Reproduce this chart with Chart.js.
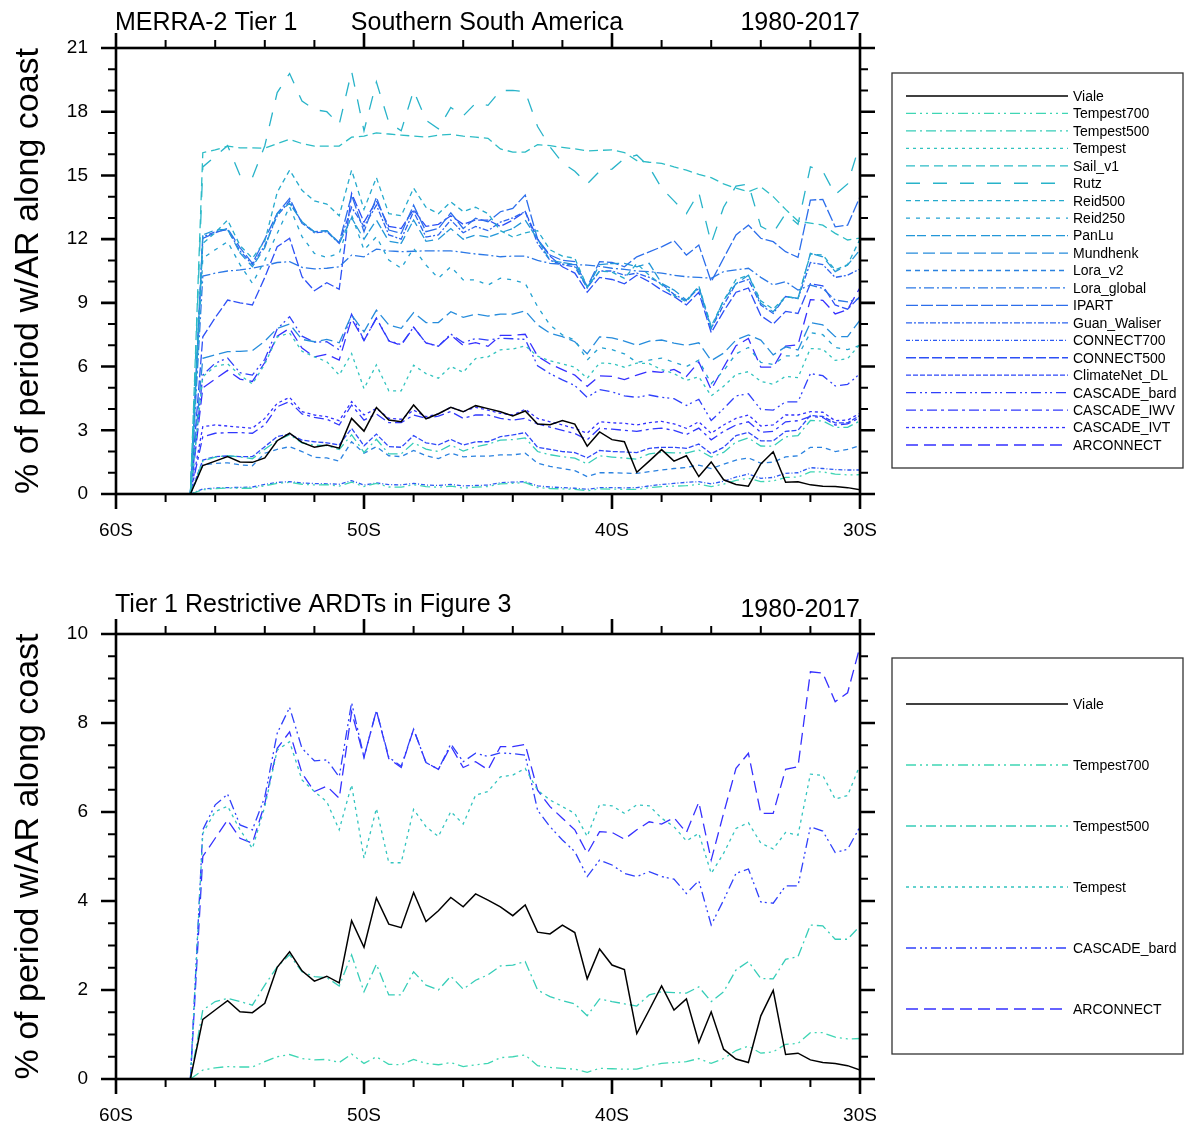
<!DOCTYPE html>
<html><head><meta charset="utf-8">
<script src="https://cdn.jsdelivr.net/npm/chart.js@4.4.1/dist/chart.umd.min.js"></script>
<style>
html,body{margin:0;padding:0;background:#fff;}
canvas{position:absolute;left:0;}
#c1{top:0;} #c2{top:566px;}
</style></head>
<body>
<canvas id="c1" width="1185" height="566"></canvas>
<canvas id="c2" width="1185" height="566"></canvas>
<script>
// ---- data ----
const lats = [-57,-56.5,-56,-55.5,-55,-54.5,-54,-53.5,-53,-52.5,-52,-51.5,-51,-50.5,-50,-49.5,-49,-48.5,-48,-47.5,-47,-46.5,-46,-45.5,-45,-44.5,-44,-43.5,-43,-42.5,-42,-41.5,-41,-40.5,-40,-39.5,-39,-38.5,-38,-37.5,-37,-36.5,-36,-35.5,-35,-34.5,-34,-33.5,-33,-32.5,-32,-31.5,-31,-30.5,-30];
const xTickLabels = ['60S','50S','40S','30S'];
const viale = [0,1.34,1.55,1.76,1.51,1.49,1.70,2.51,2.86,2.43,2.20,2.31,2.16,3.56,2.96,4.07,3.48,3.40,4.19,3.54,3.78,4.08,3.87,4.16,4.02,3.87,3.67,3.91,3.30,3.26,3.46,3.29,2.25,2.92,2.56,2.46,1.02,1.55,2.09,1.55,1.80,0.82,1.51,0.67,0.45,0.37,1.42,1.99,0.55,0.58,0.43,0.37,0.35,0.30,0.20];
const tempest700 = [0,0.20,0.25,0.28,0.27,0.27,0.39,0.50,0.55,0.46,0.43,0.44,0.37,0.56,0.35,0.50,0.33,0.32,0.44,0.35,0.32,0.37,0.28,0.32,0.35,0.48,0.50,0.54,0.30,0.26,0.24,0.22,0.15,0.24,0.23,0.22,0.22,0.30,0.35,0.37,0.39,0.46,0.35,0.46,0.64,0.74,0.58,0.61,0.78,0.80,1.04,1.04,0.94,0.90,0.91];
const tempest500 = [0,1.55,1.74,1.81,1.74,1.66,2.11,2.52,2.79,2.41,2.30,2.28,2.09,2.79,1.96,2.58,1.89,1.89,2.41,2.11,2.00,2.31,2.02,2.22,2.34,2.54,2.56,2.64,2.00,1.85,1.76,1.69,1.42,1.80,1.74,1.69,1.64,1.89,1.96,1.94,1.93,2.07,1.74,1.96,2.45,2.64,2.26,2.25,2.69,2.75,3.46,3.44,3.14,3.14,3.44];
const tempest = [0,5.52,6.01,6.13,5.60,5.18,6.12,7.39,7.58,6.72,6.46,6.23,5.60,6.61,4.96,6.08,4.86,4.86,6.06,5.67,5.45,6.01,5.73,6.38,6.46,6.79,6.83,6.98,6.49,6.27,6.12,5.97,5.45,6.17,6.14,5.97,6.16,6.14,5.86,5.67,5.35,5.52,4.62,5.07,5.63,5.76,5.30,5.17,5.54,5.48,6.85,6.82,6.29,6.37,7.06];
const sailV1 = [0,16.07,16.2,16.38,16.3,16.3,16.28,16.5,16.7,16.5,16.38,16.38,16.38,16.8,16.85,17.0,16.95,16.9,16.85,16.8,16.9,16.93,16.85,16.8,16.75,16.25,16.1,16.1,16.45,16.4,16.32,16.25,16.15,16.18,16.2,16.08,15.7,15.62,15.57,15.4,15.25,15.05,14.9,14.6,14.4,14.23,14.47,14.0,13.4,12.85,12.75,12.66,12.27,11.96,12.05];
const rutz = [0,15.4,15.9,16.4,15.0,14.9,16.4,18.9,19.8,18.5,18.1,18.0,17.4,19.9,17.1,19.4,17.5,17.1,19.0,17.6,17.2,18.2,17.8,18.4,18.3,19.0,19.0,18.95,17.3,16.35,15.6,15.2,14.6,15.2,15.3,15.8,15.96,15.4,14.4,13.8,13.2,14.2,11.8,13.5,14.5,14.6,12.6,12.3,13.2,12.7,15.4,15.2,14.1,14.6,16.5];
const reid500 = [0,11.8,12.3,12.9,11.7,11.1,11.9,14.2,15.25,14.3,13.8,13.65,13.1,15.25,13.4,14.9,13.2,13.1,14.4,13.5,13.2,13.75,13.3,13.5,13.2,12.4,12.1,12.3,12.4,11.5,11.2,11.1,9.75,10.5,10.45,10.15,10.85,10.3,9.85,9.35,9.05,9.8,7.9,9.1,10.1,10.3,9.1,8.7,9.3,9.2,11.3,11.25,10.55,10.8,12.0];
const reid250 = [0,11.1,11.5,11.88,10.8,9.92,11.0,12.27,13.53,12.12,11.33,11.14,11.33,13.14,11.49,12.11,11.02,10.63,11.57,10.78,10.16,10.7,10.08,10.08,9.84,10.16,10.08,9.92,8.82,7.96,7.49,7.25,6.31,6.9,6.8,6.6,6.2,6.3,6.4,6.2,6.0,6.3,5.2,5.8,6.6,6.9,6.2,6.1,6.5,6.5,7.6,7.5,6.9,6.8,7.0];
const panLu = [0,12.2,12.43,12.46,11.35,10.7,11.6,13.2,13.69,12.82,12.35,12.4,11.8,13.0,12.0,12.9,11.9,11.8,12.9,11.9,12.0,12.5,12.0,12.2,12.1,12.3,12.5,12.9,12.0,11.0,10.9,10.8,9.7,10.8,10.85,10.86,10.7,10.86,9.92,9.6,9.13,9.76,7.8,9.13,9.9,10.3,8.98,8.58,9.29,9.21,11.33,11.17,10.47,10.78,11.5];
const mundhenk = [0,6.39,6.55,6.70,6.72,6.75,7.2,7.8,8.0,7.28,7.17,7.28,7.12,8.43,7.64,8.66,7.96,7.8,8.54,8.07,8.07,8.58,8.32,8.47,8.38,8.47,8.47,8.62,7.96,7.57,7.41,7.17,6.6,7.4,7.35,7.2,7.0,7.2,7.25,7.1,7.0,7.12,6.28,6.63,7.25,7.49,7.25,6.55,6.93,6.78,8.07,7.96,7.41,7.41,8.19];
const loraV2 = [0,1.37,1.44,1.47,1.37,1.33,1.92,2.1,2.23,2.0,1.73,1.7,1.55,2.46,1.92,2.23,1.8,1.76,2.05,1.8,1.67,1.92,1.75,1.78,1.78,1.84,1.84,1.92,1.45,1.3,1.2,1.1,0.82,1.0,1.0,0.98,0.97,1.05,1.13,1.2,1.25,1.36,1.2,1.4,1.6,1.7,1.45,1.5,1.75,1.8,2.2,2.2,2.0,2.1,2.28];
const loraGlobal = [0,10.26,10.4,10.5,10.55,10.63,10.75,10.9,10.94,10.67,10.6,10.63,10.7,11.25,11.17,11.53,11.45,11.41,11.43,11.45,11.45,11.45,11.38,11.3,11.25,11.17,11.2,11.2,11.0,10.86,10.82,10.8,10.78,10.72,10.63,10.58,10.5,10.47,10.4,10.3,10.23,10.2,10.16,10.47,10.55,10.63,10.2,9.84,10.0,9.6,9.84,9.68,9.13,9.05,9.21];
const ipart = [0,12.03,12.3,12.5,11.6,10.86,12.0,13.21,13.92,12.74,12.35,12.4,11.83,14.08,12.35,13.97,12.43,12.27,13.6,12.35,12.5,13.24,12.5,12.98,12.82,13.29,13.45,14.08,12.0,11.25,11.0,10.94,9.76,10.94,10.9,10.7,11.17,11.4,11.64,11.93,11.25,11.72,10.0,11.1,12.2,12.66,12.04,11.88,11.41,11.14,13.84,13.87,12.58,12.66,14.0];
const guanWaliser = [0,12.1,12.35,12.45,11.45,10.8,11.7,13.1,13.8,12.78,12.3,12.35,11.8,13.5,12.6,13.6,12.2,12.0,13.3,12.1,12.2,12.9,12.3,12.6,12.4,12.8,13.0,13.3,11.8,11.0,10.8,10.7,9.7,10.5,10.5,10.3,10.4,10.2,9.9,9.4,9.1,9.7,7.8,8.9,9.9,10.1,8.9,8.5,9.3,9.2,10.9,10.8,10.2,10.3,10.6];
const connect700 = [0,0.24,0.28,0.3,0.31,0.33,0.45,0.55,0.58,0.52,0.49,0.48,0.46,0.63,0.42,0.52,0.44,0.43,0.5,0.42,0.4,0.45,0.38,0.4,0.42,0.53,0.56,0.58,0.38,0.33,0.3,0.27,0.22,0.3,0.3,0.29,0.3,0.38,0.45,0.5,0.55,0.58,0.48,0.6,0.8,0.94,0.74,0.78,0.97,1.0,1.24,1.2,1.15,1.13,1.13];
const connect500 = [0,7.4,8.3,9.13,9.0,8.9,10.2,11.64,12.04,10.23,9.57,9.95,9.64,14.15,12.8,13.8,12.6,12.5,13.4,12.6,12.7,13.1,12.7,12.9,12.9,12.6,12.9,13.3,12.0,11.2,10.7,10.4,9.5,10.2,10.1,9.9,10.3,10.0,9.6,9.3,8.9,9.5,7.6,8.6,9.5,9.7,8.4,8.0,8.6,8.5,9.9,9.8,8.9,8.7,9.3];
const climateNetDL = [0,1.6,1.76,1.79,1.76,1.76,2.23,2.7,2.82,2.54,2.46,2.41,2.31,3.09,2.27,2.82,2.23,2.2,2.75,2.41,2.31,2.57,2.31,2.46,2.46,2.7,2.78,2.89,2.2,2.1,2.0,1.95,1.7,2.05,2.0,1.98,1.95,2.15,2.2,2.2,2.15,2.35,1.9,2.2,2.75,2.9,2.5,2.5,2.95,3.0,3.7,3.65,3.35,3.35,3.7];
const cascadeBard = [0,5.60,6.16,6.40,5.71,5.60,6.34,7.77,8.35,7.43,7.15,7.17,6.79,8.46,7.23,8.28,7.23,7.03,7.86,7.11,6.96,7.53,7.13,7.32,7.25,7.33,7.31,7.28,6.04,5.67,5.37,5.11,4.55,4.92,4.81,4.62,4.55,4.66,4.55,4.49,4.17,4.46,3.46,4.02,4.62,4.72,3.98,3.95,4.34,4.34,5.67,5.57,5.09,5.16,5.67];
const cascadeIWV = [0,2.7,2.86,2.89,2.89,2.86,3.25,4.11,4.35,3.77,3.61,3.52,3.25,4.19,3.48,3.77,3.36,3.36,3.72,3.56,3.67,3.88,3.56,3.72,3.72,3.56,3.48,3.56,3.3,3.15,3.0,2.85,2.55,3.1,3.05,3.0,2.95,3.05,3.1,3.0,2.8,3.1,2.55,2.95,3.25,3.4,2.9,2.95,3.4,3.45,3.65,3.6,3.25,3.3,3.6];
const cascadeIVT = [0,3.17,3.25,3.2,3.14,3.1,3.56,4.27,4.55,3.88,3.72,3.64,3.45,4.35,3.72,4.03,3.56,3.52,3.95,3.64,3.77,4.08,3.88,4.08,3.95,3.8,3.72,3.99,3.56,3.40,3.25,3.09,2.86,3.40,3.35,3.33,3.25,3.36,3.42,3.30,3.09,3.40,2.86,3.25,3.56,3.72,3.2,3.25,3.72,3.72,3.88,3.85,3.45,3.48,3.8];
const arconnect = [0,5.00,5.41,5.82,5.41,5.30,6.19,7.43,7.80,6.87,6.46,6.58,6.31,8.25,7.23,8.28,7.20,7.00,7.86,7.11,6.96,7.48,7.00,7.13,6.95,7.47,7.47,7.52,6.49,6.12,5.86,5.60,5.07,5.56,5.54,5.39,5.60,5.78,5.73,5.87,5.54,6.22,4.92,5.97,6.98,7.32,5.97,5.97,6.96,7.02,9.15,9.12,8.48,8.68,9.72];

const topSeries = [
  ['Viale',viale],['Tempest700',tempest700],['Tempest500',tempest500],['Tempest',tempest],
  ['Sail_v1',sailV1],['Rutz',rutz],['Reid500',reid500],['Reid250',reid250],['PanLu',panLu],
  ['Mundhenk',mundhenk],['Lora_v2',loraV2],['Lora_global',loraGlobal],['IPART',ipart],
  ['Guan_Waliser',guanWaliser],['CONNECT700',connect700],['CONNECT500',connect500],
  ['ClimateNet_DL',climateNetDL],['CASCADE_bard',cascadeBard],['CASCADE_IWV',cascadeIWV],
  ['CASCADE_IVT',cascadeIVT],['ARCONNECT',arconnect]
];
const bottomSeries = [
  ['Viale',viale],['Tempest700',tempest700],['Tempest500',tempest500],['Tempest',tempest],
  ['CASCADE_bard',cascadeBard],['ARCONNECT',arconnect]
];

// ---- styles ----
const colors = {
  Viale:'#000000', Tempest700:'#3fd6b4', Tempest500:'#36cdb8', Tempest:'#32c4bf',
  Sail_v1:'#2dbcc6', Rutz:'#28b3c9', Reid500:'#25aacd', Reid250:'#23a2d2', PanLu:'#2397d8',
  Mundhenk:'#268cdc', Lora_v2:'#2a82e0', Lora_global:'#2b78e6', IPART:'#2c6eeb',
  Guan_Waliser:'#2c64ef', CONNECT700:'#2c5af3', CONNECT500:'#2d50f6', ClimateNet_DL:'#2e48f9',
  CASCADE_bard:'#2f40fb', CASCADE_IWV:'#3038fd', CASCADE_IVT:'#3232fe', ARCONNECT:'#3530ff'
};
const dashes = {
  Viale:[], Tempest700:[10,4,2,4,2,4], Tempest500:[10,4,2,4], Tempest:[3,4],
  Sail_v1:[9,5], Rutz:[14,13], Reid500:[5,4], Reid250:[4,6], PanLu:[9,2,9,5],
  Mundhenk:[12,5], Lora_v2:[5,4], Lora_global:[10,3,2,3], IPART:[12,3],
  Guan_Waliser:[6,2,2,2], CONNECT700:[4,2,1,2], CONNECT500:[10,3], ClimateNet_DL:[5,2],
  CASCADE_bard:[10,4,2,3,2,4], CASCADE_IWV:[10,4,3,4], CASCADE_IVT:[3,3], ARCONNECT:[12,6]
};
const FONT = "'Liberation Sans', Arial, Helvetica, sans-serif";
Chart.defaults.font.family = FONT;
Chart.defaults.color = '#000';

function makeSets(list){
  return list.map(([name, arr]) => ({
    label: name,
    data: lats.map((lat, i) => ({x: lat, y: arr[i]})),
    borderColor: colors[name],
    borderDash: dashes[name],
    borderWidth: name === 'Viale' ? 1.5 : 1.3,
    pointRadius: 0, tension: 0, fill: false
  }));
}

const framePlugin = {
  id: 'frame',
  afterDraw(chart, args, o) {
    const {ctx, chartArea: a, scales: {x, y}} = chart;
    ctx.save();
    ctx.strokeStyle = '#000';
    ctx.setLineDash([]);
    for (let k = 0; k <= 15; k++) {
      const v = -60 + 2 * k;
      const px = x.getPixelForValue(v);
      const major = (k % 5 === 0);
      const len = major ? 15 : 8;
      ctx.lineWidth = major ? 2.6 : 2;
      ctx.beginPath();
      ctx.moveTo(px, a.bottom); ctx.lineTo(px, a.bottom + len);
      ctx.moveTo(px, a.top); ctx.lineTo(px, a.top - len);
      ctx.stroke();
    }
    const n = Math.round(o.ymax / o.yminor);
    const per = Math.round(o.ymajor / o.yminor);
    for (let k = 0; k <= n; k++) {
      const v = k * o.yminor;
      const py = y.getPixelForValue(v);
      const major = (k % per === 0);
      const len = major ? 15 : 8;
      ctx.lineWidth = major ? 2.6 : 2;
      ctx.beginPath();
      ctx.moveTo(a.left, py); ctx.lineTo(a.left - len, py);
      ctx.moveTo(a.right, py); ctx.lineTo(a.right + len, py);
      ctx.stroke();
    }
    ctx.lineWidth = 2.6;
    ctx.strokeRect(a.left, a.top, a.right - a.left, a.bottom - a.top);
    ctx.fillStyle = '#000';
    ctx.font = '25px ' + FONT;
    ctx.textBaseline = 'alphabetic';
    for (const t of o.titles) {
      ctx.textAlign = t.align;
      ctx.fillText(t.text, t.x, t.y);
    }
    const L = o.legend;
    ctx.lineWidth = 1.3;
    ctx.strokeStyle = '#333';
    ctx.strokeRect(L.x, L.y, L.w, L.h);
    ctx.font = '14px ' + FONT;
    ctx.textAlign = 'left';
    ctx.textBaseline = 'middle';
    chart.data.datasets.forEach((ds, i) => {
      const yy = L.row0 + L.dy * i;
      ctx.strokeStyle = ds.borderColor;
      ctx.lineWidth = 1.3;
      ctx.setLineDash(ds.borderDash);
      ctx.beginPath();
      ctx.moveTo(906, yy); ctx.lineTo(1068, yy);
      ctx.stroke();
      ctx.setLineDash([]);
      ctx.fillStyle = '#000';
      ctx.fillText(ds.label, 1073, yy + 1);
    });
    ctx.restore();
  }
};

function makeChart(id, list, ymax, ymajor, yminor, padTop, xh, titles, legend) {
  return new Chart(document.getElementById(id), {
    type: 'line',
    data: {datasets: makeSets(list)},
    plugins: [framePlugin],
    options: {
      responsive: false, animation: false, events: [],
      layout: {padding: {top: padTop, right: 325, left: 0, bottom: 0}},
      plugins: {legend: {display: false}, tooltip: {enabled: false},
        frame: {ymax, ymajor, yminor, titles, legend}},
      scales: {
        x: {
          type: 'linear', min: -60, max: -30,
          grid: {display: false, drawTicks: false}, border: {display: false},
          ticks: {stepSize: 10, padding: 25, maxRotation: 0, autoSkip: false,
            font: {size: 19},
            callback: (v) => xTickLabels[Math.round((v + 60) / 10)]},
          afterFit: (s) => { s.height = xh; }
        },
        y: {
          min: 0, max: ymax,
          grid: {display: false, drawTicks: false}, border: {display: false},
          ticks: {stepSize: ymajor, padding: 28, font: {size: 19}},
          title: {display: true, text: '% of period w/AR along coast',
            font: {size: 34}, padding: {top: 8, bottom: 0}},
          afterFit: (s) => { s.width = 116; }
        }
      }
    }
  });
}

makeChart('c1', topSeries, 21, 3, 1, 48, 72,
  [{text:'MERRA-2 Tier 1', x:115, y:30, align:'left'},
   {text:'Southern South America', x:487, y:30, align:'center'},
   {text:'1980-2017', x:860, y:30, align:'right'}],
  {x:892, y:73, w:291, h:395, row0:96, dy:17.45});

makeChart('c2', bottomSeries, 10, 2, 0.5, 68, 53,
  [{text:'Tier 1 Restrictive ARDTs in Figure 3', x:115, y:46, align:'left'},
   {text:'1980-2017', x:860, y:51, align:'right'}],
  {x:892, y:92, w:291, h:396, row0:138, dy:61});
</script>
</body></html>
